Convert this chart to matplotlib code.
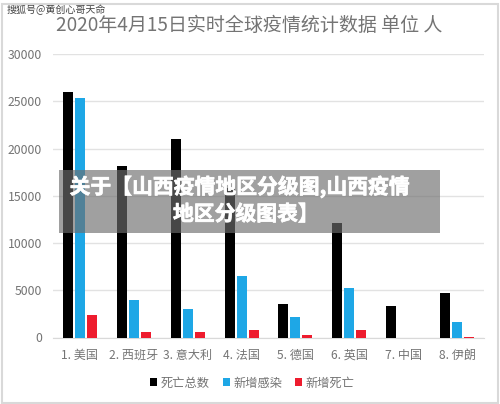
import matplotlib
matplotlib.use('Agg')
import matplotlib.pyplot as plt
from matplotlib.patches import Rectangle
import matplotlib.patheffects as pe
import numpy as np

plt.rcParams['font.family'] = ['Noto Sans CJK SC', 'DejaVu Sans']

categories = ['1. 美国', '2. 西班牙', '3. 意大利', '4. 法国', '5. 德国', '6. 英国', '7. 中国', '8. 伊朗']
total_deaths = [25980, 18200, 21000, 15800, 3500, 12100, 3350, 4700]
new_cases = [25350, 4000, 3000, 6500, 2150, 5250, 0, 1600]
new_deaths = [2400, 550, 600, 750, 300, 800, 0, 100]
series_names = ['死亡总数', '新增感染', '新增死亡']
colors = ['#000000', '#1EA7E6', '#EE1C2E']
yticks = [0, 5000, 10000, 15000, 20000, 25000, 30000]
title = '2020年4月15日实时全球疫情统计数据 单位 人'
watermark = '搜狐号@黄创心哥天命'
overlay_lines = ['关于【山西疫情地区分级图,山西疫情', '地区分级图表】']
overlay_centers = [240, 246]

W, H = 500, 404
fig = plt.figure(figsize=(W/100, H/100), dpi=100, facecolor='white')
ax = fig.add_axes([53/W, 1-337.5/H, 431/W, 283.5/H])

x = np.arange(len(categories))
bw = 10/53.9
for i, (vals, c, n) in enumerate(zip([total_deaths, new_cases, new_deaths], colors, series_names)):
    ax.bar(x + (i-1)*12/53.9, vals, bw, color=c, label=n, zorder=3)

ax.set_xlim(-0.5, 7.5)
ax.set_ylim(0, 30000)
ax.set_yticks(yticks)
ax.set_xticks(x)
ax.set_xticklabels(categories)
ax.tick_params(length=0, labelsize=8.7, labelcolor='#747474')
ax.tick_params(axis='x', pad=8)
ax.tick_params(axis='y', pad=8, labelsize=8.8)
ax.grid(axis='y', color='#e2e2e2', lw=1, zorder=0)
for s in ['top', 'right', 'left']:
    ax.spines[s].set_visible(False)
ax.spines['bottom'].set_color('#d9d9d9')

fig.text(249.5/W, 1-25/H, title, ha='center', va='center', fontsize=13.7, color='#747474')
fig.text(7/W, 1-10/H, watermark, ha='left', va='center', fontsize=7.2, color='#444444')

leg = ax.legend(loc='center', bbox_to_anchor=(252.5/W, 1-383/H), bbox_transform=fig.transFigure,
                ncol=3, frameon=False, fontsize=8.8, handlelength=0.57, handleheight=0.57,
                handletextpad=0.3, columnspacing=1.05, borderpad=0)
for t in leg.get_texts():
    t.set_color('#747474')

# outer frame
fig.add_artist(Rectangle((1.5/W, 1.5/H), 496/W, 399/H, transform=fig.transFigure,
                         fill=False, ec='#d9d9d9', lw=1.5))
# overlay band
fig.add_artist(Rectangle((59/W, 1-233/H), 381/W, 63/H, transform=fig.transFigure,
                         fc='#6e6e6e', alpha=0.65, ec='none', zorder=5))
for line, cx, yy in zip(overlay_lines, overlay_centers, [187, 214]):
    t = fig.text(cx/W, 1-yy/H, line, ha='center', va='center', fontsize=15,
                 fontweight='bold', color='white', zorder=6)
    t.set_path_effects([pe.withStroke(linewidth=0.5, foreground='white')])

fig.savefig('out.png', dpi=100)
